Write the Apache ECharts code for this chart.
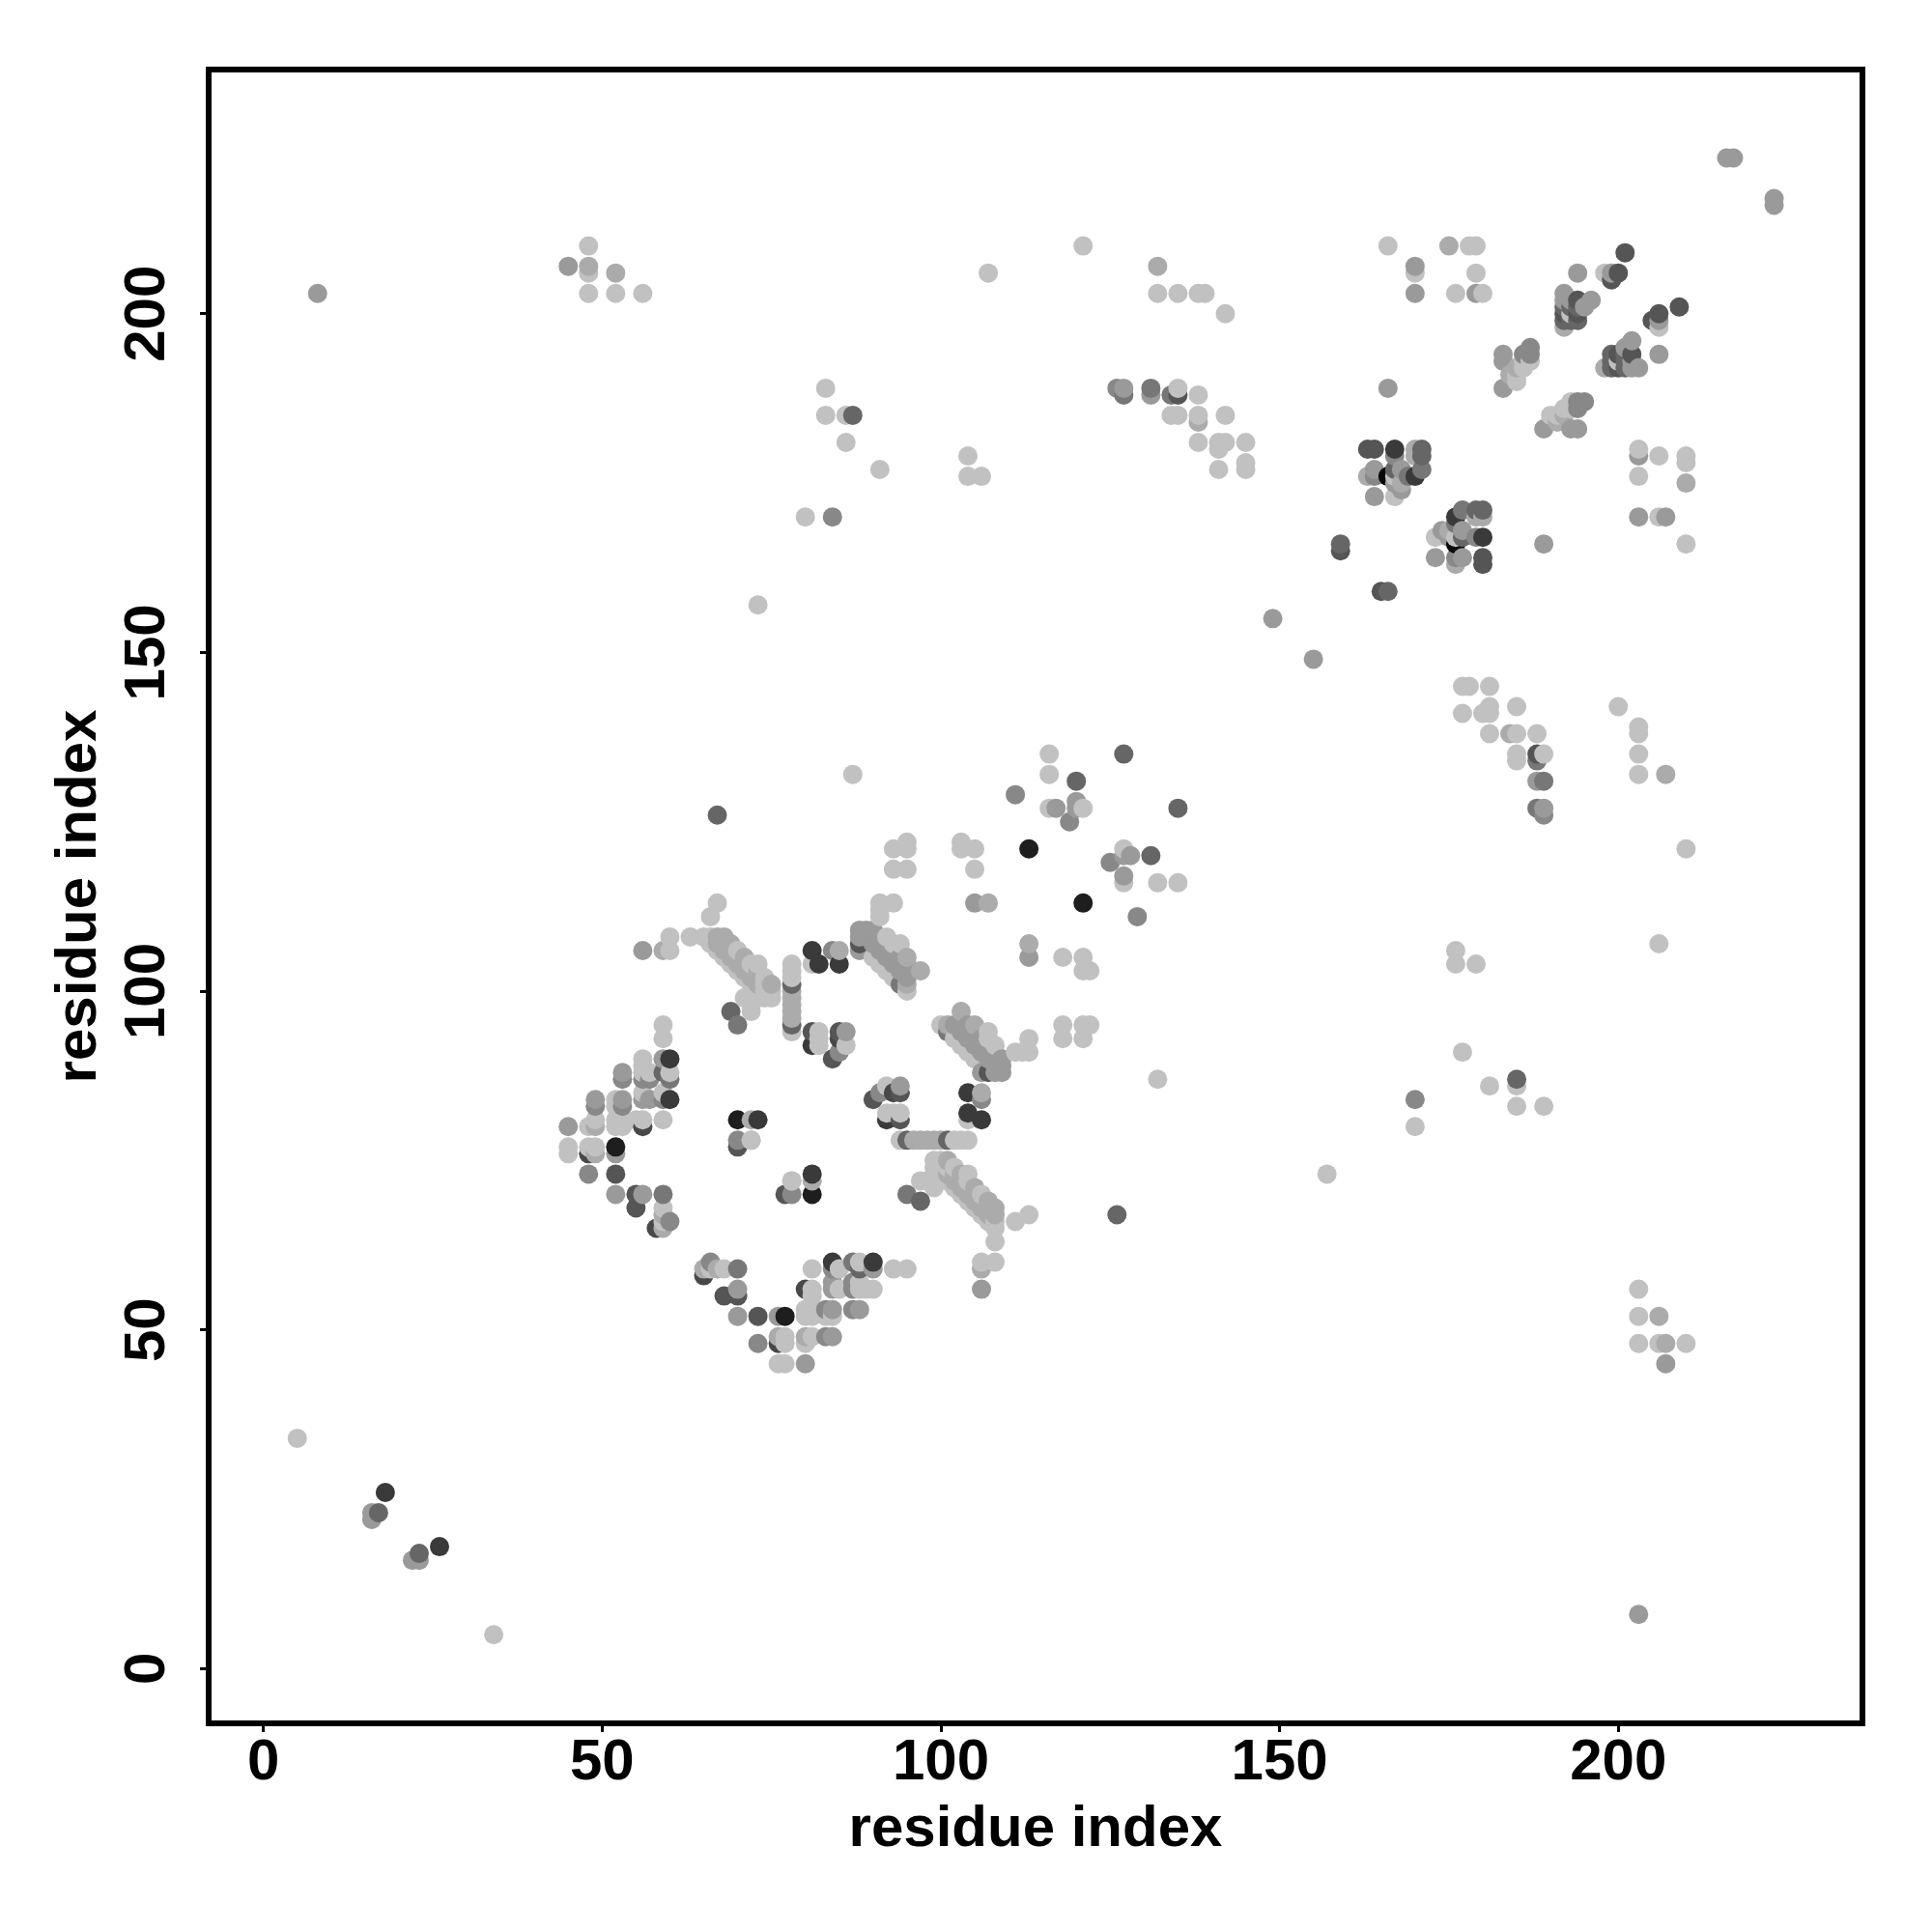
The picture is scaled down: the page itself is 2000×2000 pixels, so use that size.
<!DOCTYPE html>
<html>
<head>
<meta charset="utf-8">
<style>html,body{margin:0;padding:0;background:#fff}#c{width:2000px;height:2000px}</style>
<script src="https://cdn.jsdelivr.net/npm/echarts@6/dist/echarts.min.js"></script>
</head>
<body>
<div id="c"></div>
<script>
// Residue contacts [i, j], i < j, grouped by the grey shade.
// A contact map is symmetric, so each pair is drawn at (i, j) and at (j, i).
const tickValues = [0, 50, 100, 150, 200];
const axisTitle = 'residue index';

const shade0A = [[166,176]];
const shade1E = [[70,81],[52,77],[113,121]];
const shade33 = [[18,26],[60,90],[60,84],[73,81],[81,92],[81,106],[82,104],[85,104],[167,180],[170,176]];
const shade44 = [[48,76],[56,80],[58,65],[85,93]];
const shade55 = [[52,73],[55,70],[55,68],[70,77],[81,94],[84,90],[85,94],[88,107],[135,188],[163,180],[164,180],[159,165],[199,205],[200,206],[201,209],[194,202],[194,200],[192,200]];
const shade66 = [[17,23],[59,88],[69,97],[78,95],[78,101],[87,185],[120,131],[127,135],[171,180],[171,179],[167,177],[159,166],[192,201],[192,199],[193,199],[193,201],[194,201],[194,199],[67,126]];
const shade77 = [[60,87],[70,95],[94,101],[127,188],[131,189],[134,188],[171,177],[169,176],[59,70]];
const shade88 = [[53,87],[48,73],[53,83],[49,83],[59,84],[70,78],[56,87],[57,87],[85,91],[60,66],[187,195],[186,194],[187,194],[167,179],[164,176],[119,125],[84,170],[111,129],[84,106],[126,189]];
const shade99 = [[8,203],[16,22],[16,23],[45,80],[45,207],[49,84],[53,84],[53,88],[52,76],[52,70],[56,84],[57,84],[59,90],[56,70],[86,94],[88,109],[88,108],[88,106],[89,108],[90,107],[91,106],[92,105],[93,104],[94,103],[95,102],[89,109],[90,109],[90,108],[91,107],[92,106],[93,105],[94,104],[95,103],[91,108],[92,107],[93,106],[94,105],[95,104],[105,113],[117,127],[120,128],[120,127],[127,189],[131,188],[149,155],[164,177],[164,173],[168,177],[167,175],[168,174],[170,203],[170,207],[166,189],[179,203],[183,194],[183,193],[183,189],[192,203],[192,202],[194,206],[195,201],[196,202],[199,206],[193,202],[216,223],[217,223],[56,106]];
const shadeAA = [[48,207],[52,206],[49,80],[49,76],[59,65],[59,67],[72,81],[78,96],[78,97],[78,98],[78,99],[78,100],[85,106],[95,105],[97,103],[95,101],[67,107],[68,106],[69,105],[70,104],[71,103],[72,102],[73,101],[67,108],[68,107],[69,106],[70,105],[71,104],[72,103],[73,102],[68,108],[69,107],[71,105],[73,103],[75,101],[107,113],[132,207],[138,184],[170,180],[170,179],[163,176],[168,175],[175,210],[185,192],[184,191],[192,198],[59,106]];
const shadeC1 = [[5,34],[59,95],[59,93],[56,90],[56,89],[56,88],[57,88],[60,88],[52,84],[52,83],[56,85],[59,85],[48,80],[49,81],[52,81],[52,80],[53,81],[53,80],[55,81],[56,81],[59,81],[45,77],[45,76],[48,77],[49,77],[59,68],[59,66],[72,78],[78,72],[78,94],[78,102],[78,103],[78,104],[81,104],[82,94],[82,93],[82,92],[86,92],[60,108],[60,106],[63,108],[65,108],[66,108],[66,107],[67,106],[68,105],[69,104],[70,103],[71,102],[72,101],[73,100],[67,113],[66,111],[70,106],[72,104],[73,104],[74,102],[74,101],[74,100],[72,97],[72,98],[72,99],[71,99],[73,99],[74,99],[75,99],[75,100],[91,113],[93,113],[91,112],[91,111],[92,108],[93,107],[94,107],[90,105],[91,104],[92,103],[93,102],[95,100],[95,122],[95,121],[93,121],[95,118],[93,118],[103,122],[103,121],[105,121],[105,118],[87,132],[73,157],[80,170],[83,189],[83,185],[86,185],[86,181],[91,177],[104,179],[104,176],[106,176],[107,206],[121,210],[116,135],[116,132],[116,127],[121,127],[132,203],[135,203],[138,203],[139,203],[142,200],[135,189],[134,185],[135,185],[138,188],[138,185],[142,185],[138,181],[141,181],[142,181],[141,180],[145,181],[145,178],[145,177],[141,177],[48,206],[48,210],[48,203],[52,203],[56,203],[166,210],[178,210],[179,210],[170,206],[176,203],[180,203],[179,206],[167,176],[167,173],[187,193],[186,193],[186,192],[185,191],[185,190],[198,206],[193,200]];

const shades = [
  ['#0a0a0a', shade0A], ['#1e1e1e', shade1E], ['#3a3a3a', shade33], ['#484848', shade44],
  ['#555555', shade55], ['#666666', shade66], ['#777777', shade77], ['#888888', shade88],
  ['#9a9a9a', shade99], ['#ababab', shadeAA], ['#c1c1c1', shadeC1]
];

const points = [];
shades.forEach(([colour, list]) => list.forEach(([i, j]) => {
  points.push({ value: [i, j], itemStyle: { color: colour, opacity: 1 } });
  points.push({ value: [j, i], itemStyle: { color: colour, opacity: 1 } });
}));
points.sort((a, b) => a.value[0] - b.value[0] || a.value[1] - b.value[1]);

const font = 'Liberation Sans';
const axisMin = -8.08, axisMax = 236.04;
const chart = echarts.init(document.getElementById('c'), null, { renderer: 'canvas' });
chart.setOption({
  animation: false,
  backgroundColor: '#fff',
  grid: { show: true, left: 216, right: 72, top: 72, bottom: 216, borderColor: '#000', borderWidth: 6, backgroundColor: 'transparent' },
  xAxis: {
    type: 'value', min: axisMin, max: axisMax,
    name: axisTitle, nameLocation: 'middle', nameGap: 80,
    nameTextStyle: { fontFamily: font, fontWeight: 'bold', fontSize: 60, color: '#000' },
    axisLine: { show: false, onZero: false }, splitLine: { show: false },
    axisTick: { show: true, length: 9, lineStyle: { width: 3, color: '#000' }, customValues: tickValues },
    axisLabel: { color: '#000', fontFamily: font, fontWeight: 'bold', fontSize: 60, margin: 11, customValues: tickValues }
  },
  yAxis: {
    type: 'value', min: axisMin, max: axisMax,
    name: axisTitle, nameLocation: 'middle', nameGap: 104,
    nameTextStyle: { fontFamily: font, fontWeight: 'bold', fontSize: 60, color: '#000' },
    axisLine: { show: false, onZero: false }, splitLine: { show: false },
    axisTick: { show: true, length: 9, lineStyle: { width: 3, color: '#000' }, customValues: tickValues },
    axisLabel: { color: '#000', fontFamily: font, fontWeight: 'bold', fontSize: 60, rotate: 90, margin: 33, customValues: tickValues }
  },
  series: [{ type: 'scatter', symbol: 'circle', symbolSize: 20, itemStyle: { opacity: 1 }, data: points, clip: false, progressive: 0 }]
});
</script>
</body>
</html>
